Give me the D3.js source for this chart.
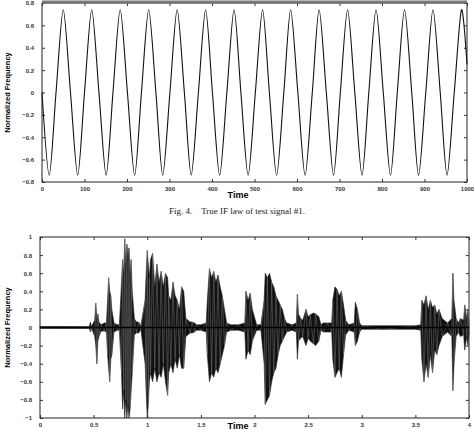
<!DOCTYPE html>
<html>
<head>
<meta charset="utf-8">
<script src="https://cdn.jsdelivr.net/npm/d3@7"></script>
<style>
  body { margin: 0; background: #fff; }
</style>
</head>
<body>
<div id="chart"></div>
<script>
// top panel: true IF law (extrema and zero crossings)
var ifTime = [0,17,33,50,67,84,100,117,134,151,167,184,201,218,234,251,268,284,301,318,
  335,351,368,385,401,418,435,452,468,485,502,519,535,552,569,585,602,619,636,652,
  669,686,702,719,736,753,769,786,803,820,836,853,870,886,903,920,937,953,970,987,1000];
var ifValue = [0,-0.74,0,0.74,0,-0.74,0,0.74,0,-0.74,0,0.74,0,-0.74,0,0.74,0,-0.74,0,0.74,
  0,-0.74,0,0.74,0,-0.74,0,0.74,0,-0.74,0,0.74,0,-0.74,0,0.74,0,-0.74,0,0.74,
  0,-0.74,0,0.74,0,-0.74,0,0.74,0,-0.74,0,0.74,0,-0.74,0,0.74,0,-0.74,0,0.74,0.25];
var topXTicks = [0,100,200,300,400,500,600,700,800,900,1000];
var topYTicks = [-0.8,-0.6,-0.4,-0.2,0,0.2,0.4,0.6,0.8];

// bottom panel: signal envelope (time, upper, lower)
var sigTime = [0,0.46,0.47,0.48,0.51,0.52,0.53,0.54,0.55,0.57,0.6,0.62,0.63,0.64,0.65,0.66,0.67,0.69,0.72,0.74,
  0.76,0.77,0.78,0.79,0.8,0.81,0.82,0.83,0.84,0.85,0.86,0.88,0.9,0.92,0.94,0.98,0.99,1.0,1.01,1.02,
  1.03,1.05,1.07,1.09,1.11,1.13,1.15,1.17,1.19,1.2,1.22,1.24,1.26,1.28,1.3,1.32,1.34,1.36,1.4,1.42,
  1.44,1.46,1.5,1.55,1.56,1.58,1.6,1.62,1.64,1.66,1.68,1.7,1.72,1.74,1.78,1.85,1.91,1.92,1.94,1.96,
  1.98,2.02,2.06,2.09,2.1,2.12,2.14,2.16,2.18,2.2,2.22,2.24,2.26,2.28,2.3,2.35,2.39,2.4,2.41,2.43,
  2.45,2.48,2.5,2.52,2.55,2.57,2.6,2.62,2.64,2.68,2.72,2.73,2.75,2.77,2.79,2.81,2.83,2.85,2.88,2.93,
  2.94,2.96,2.98,3.0,3.2,3.5,3.55,3.56,3.58,3.6,3.62,3.64,3.66,3.68,3.7,3.72,3.75,3.8,3.84,3.85,
  3.86,3.88,3.9,3.92,3.95,3.96,3.98,3.99,4.0];
var sigTop = [0.01,0.01,0.06,0.01,0.08,0.27,0.1,0.15,0.06,0.03,0.05,0.05,0.3,0.55,0.4,0.35,0.2,0.05,0.03,0.03,
  0.5,0.75,0.6,0.98,0.7,0.92,0.8,0.88,0.6,0.75,0.4,0.1,0.06,0.06,0.02,0.3,0.6,0.85,0.7,0.55,
  0.75,0.82,0.45,0.7,0.5,0.62,0.45,0.6,0.55,0.35,0.3,0.5,0.35,0.3,0.2,0.45,0.4,0.1,0.06,0.06,
  0.05,0.03,0.03,0.05,0.3,0.65,0.55,0.62,0.5,0.58,0.45,0.35,0.2,0.05,0.03,0.03,0.05,0.4,0.3,0.38,
  0.2,0.03,0.03,0.3,0.6,0.55,0.6,0.5,0.45,0.35,0.3,0.25,0.2,0.1,0.05,0.03,0.05,0.37,0.15,0.1,
  0.08,0.2,0.12,0.14,0.16,0.15,0.12,0.03,0.05,0.05,0.05,0.3,0.45,0.42,0.35,0.4,0.25,0.08,0.03,0.05,
  0.28,0.2,0.05,0.02,0.02,0.02,0.03,0.3,0.25,0.35,0.2,0.3,0.22,0.25,0.15,0.2,0.1,0.05,0.1,0.6,
  0.3,0.1,0.05,0.1,0.08,0.25,0.1,0.2,0.05];
var sigBottom = [-0.01,-0.01,-0.05,-0.01,-0.1,-0.2,-0.4,-0.15,-0.1,-0.04,-0.04,-0.05,-0.3,-0.45,-0.6,-0.35,-0.3,-0.05,-0.03,-0.03,
  -0.5,-0.9,-0.7,-1,-0.8,-1,-0.85,-1,-0.9,-0.7,-0.5,-0.08,-0.06,-0.06,-0.02,-0.4,-0.7,-1,-0.85,-0.6,
  -0.5,-0.6,-0.45,-0.6,-0.5,-0.55,-0.4,-0.6,-0.75,-0.5,-0.4,-0.5,-0.35,-0.45,-0.3,-0.45,-0.45,-0.1,-0.06,-0.06,
  -0.05,-0.03,-0.03,-0.05,-0.3,-0.6,-0.5,-0.55,-0.45,-0.5,-0.4,-0.3,-0.2,-0.05,-0.03,-0.03,-0.05,-0.35,-0.25,-0.3,
  -0.15,-0.03,-0.03,-0.4,-0.85,-0.8,-0.75,-0.6,-0.5,-0.45,-0.3,-0.2,-0.15,-0.1,-0.05,-0.03,-0.05,-0.35,-0.15,-0.12,
  -0.1,-0.2,-0.12,-0.15,-0.18,-0.2,-0.15,-0.03,-0.05,-0.05,-0.05,-0.35,-0.55,-0.5,-0.45,-0.55,-0.3,-0.08,-0.03,-0.05,
  -0.2,-0.15,-0.05,-0.02,-0.02,-0.02,-0.03,-0.35,-0.6,-0.4,-0.55,-0.3,-0.5,-0.25,-0.3,-0.2,-0.1,-0.05,-0.1,-0.7,
  -0.4,-0.1,-0.05,-0.1,-0.08,-0.25,-0.1,-0.2,-0.05];
var botXTicks = [0,0.5,1,1.5,2,2.5,3,3.5,4];
var botYTicks = [-1,-0.8,-0.6,-0.4,-0.2,0,0.2,0.4,0.6,0.8,1];

var sans = "'Liberation Sans', Arial, sans-serif";
var svg = d3.select("#chart").append("svg")
  .attr("width", 474).attr("height", 430);

function drawPanel(box, xDomain, yDomain, xTicks, yTicks, xFmt, yFmt) {
  var x = d3.scaleLinear().domain(xDomain).range([box.left, box.right]);
  var y = d3.scaleLinear().domain(yDomain).range([box.bottom, box.top]);
  var g = svg.append("g");

  g.append("rect")
    .attr("x", box.left).attr("y", box.top)
    .attr("width", box.right - box.left).attr("height", box.bottom - box.top)
    .attr("fill", "none").attr("stroke", "#222").attr("stroke-width", 1);

  // inward ticks on all four sides
  g.append("g").attr("transform", `translate(0,${box.bottom})`)
    .call(d3.axisBottom(x).tickValues(xTicks).tickSize(-3).tickPadding(5).tickFormat(xFmt))
    .call(a => a.select(".domain").remove());
  g.append("g").attr("transform", `translate(0,${box.top})`)
    .call(d3.axisTop(x).tickValues(xTicks).tickSize(-3).tickFormat(""))
    .call(a => a.select(".domain").remove());
  g.append("g").attr("transform", `translate(${box.left},0)`)
    .call(d3.axisLeft(y).tickValues(yTicks).tickSize(-3).tickPadding(8).tickFormat(yFmt))
    .call(a => a.select(".domain").remove());
  g.append("g").attr("transform", `translate(${box.right},0)`)
    .call(d3.axisRight(y).tickValues(yTicks).tickSize(-3).tickFormat(""))
    .call(a => a.select(".domain").remove());

  g.selectAll(".tick text").attr("font-size", 6).attr("font-weight", "bold")
    .attr("font-family", sans).attr("fill", "#333");
  g.selectAll(".tick line").attr("stroke", "#333");

  svg.append("text")
    .attr("transform", `translate(${box.ylabelX},${(box.top + box.bottom) / 2})rotate(-90)`)
    .attr("text-anchor", "middle").attr("font-size", 7.5).attr("font-weight", "bold")
    .attr("font-family", sans)
    .text("Normalized Frequency");
  svg.append("text")
    .attr("x", box.timeX).attr("y", box.timeY)
    .attr("text-anchor", "middle").attr("font-size", 9).attr("font-weight", "bold")
    .attr("font-family", sans)
    .text("Time");
  return {x: x, y: y};
}

// top panel
var topBox = {left: 42, right: 467, top: 3, bottom: 182, ylabelX: 10, timeX: 238, timeY: 198};
var s1 = drawPanel(topBox, [0, 1000], [-0.8, 0.8], topXTicks, topYTicks, d3.format("d"),
  d => d === 0 ? "0" : d3.format(".1f")(d));
svg.append("line").attr("x1", 42).attr("x2", 467).attr("y1", 2).attr("y2", 2)
  .attr("stroke", "#777").attr("stroke-width", 3);

var ifLine = d3.line()
  .x((d, i) => s1.x(ifTime[i]))
  .y((d, i) => s1.y(ifValue[i]))
  .curve(d3.curveCardinal.tension(0.15));
svg.append("path").datum(ifTime)
  .attr("d", ifLine).attr("fill", "none").attr("stroke", "#111").attr("stroke-width", 1.1);

// caption
svg.append("text").attr("x", 237).attr("y", 214).attr("text-anchor", "middle")
  .attr("font-family", "'Liberation Serif', 'Times New Roman', serif").attr("font-size", 9)
  .attr("fill", "#222")
  .text("Fig. 4.\u00a0\u00a0\u00a0\u00a0True IF law of test signal #1.");

// bottom panel
var botBox = {left: 40, right: 469, top: 237, bottom: 418, ylabelX: 10, timeX: 238, timeY: 429};
var s2 = drawPanel(botBox, [0, 4], [-1, 1], botXTicks, botYTicks, d => d3.format("")(d),
  d => d === 0 ? "0" : (Math.abs(d) === 1 ? d3.format("d")(d) : d3.format(".1f")(d)));

var sigArea = d3.area()
  .x((d, i) => s2.x(sigTime[i]))
  .y0((d, i) => s2.y(sigBottom[i]))
  .y1((d, i) => s2.y(sigTop[i]));
svg.append("path").datum(sigTime)
  .attr("d", sigArea).attr("fill", "#111").attr("stroke", "#222").attr("stroke-width", 0.6);

// spiky strokes through the envelope points
var spike = d3.line()
  .x((d, i) => s2.x(sigTime[i]))
  .y((d, i) => s2.y(i % 2 ? sigTop[i] : sigBottom[i]));
svg.append("path").datum(sigTime)
  .attr("d", spike).attr("fill", "none").attr("stroke", "#777").attr("stroke-width", 0.5);

svg.append("line").attr("x1", s2.x(0)).attr("x2", s2.x(4))
  .attr("y1", s2.y(0)).attr("y2", s2.y(0)).attr("stroke", "#000").attr("stroke-width", 1.5);
</script>
</body>
</html>
